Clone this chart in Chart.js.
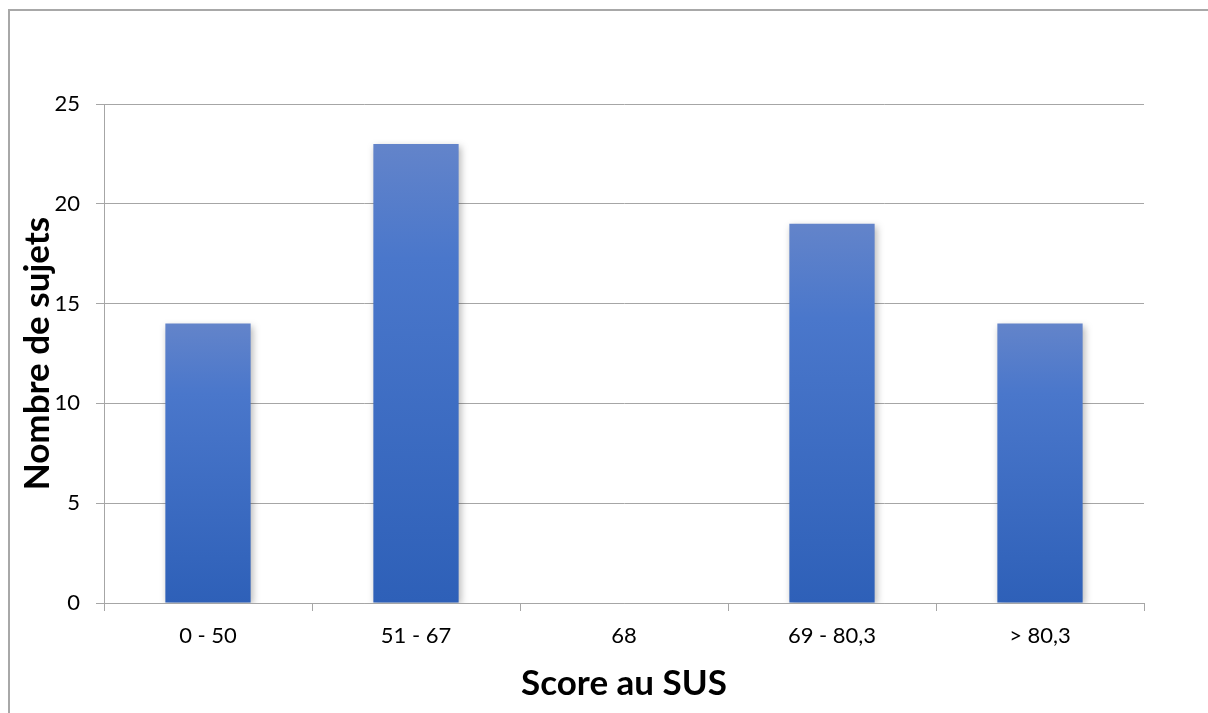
<!DOCTYPE html>
<html>
<head>
<meta charset="utf-8">
<script src="https://cdn.jsdelivr.net/npm/chart.js@4/dist/chart.umd.min.js"></script>
<style>
  html, body { margin: 0; padding: 0; background: #ffffff; }
  #wrap { width: 1208px; height: 713px; position: relative; }
</style>
</head>
<body>
<div id="wrap"><canvas id="c" width="1208" height="713"></canvas></div>
<script>
// SUS score bands and number of subjects in each
const categories = ['0 - 50', '51 - 67', '68', '69 - 80,3', '> 80,3'];
const subjects = [14, 23, 0, 19, 14];
const yTicks = [0, 5, 10, 15, 20, 25];

const FONT = 'Lato, "Open Sans", "Liberation Sans", sans-serif';
const GRID = '#a6a6a6';

// outer frame around the chart
const framePlugin = {
  id: 'frame',
  beforeDraw(chart) {
    const ctx = chart.ctx;
    ctx.save();
    ctx.strokeStyle = '#a8a8a8';
    ctx.lineWidth = 2;
    ctx.strokeRect(9, 10, 1400, 900);
    ctx.restore();
  }
};

// soft drop shadow behind the bars
const shadowPlugin = {
  id: 'barShadow',
  beforeDatasetsDraw(chart) {
    const ctx = chart.ctx;
    ctx.save();
    ctx.shadowColor = 'rgba(0,0,0,0.28)';
    ctx.shadowBlur = 7;
    ctx.shadowOffsetX = 2;
    ctx.shadowOffsetY = 2;
  },
  afterDatasetsDraw(chart) {
    chart.ctx.restore();
  }
};

// vertical gradient per bar, lighter at the top
function barFill(context) {
  const chart = context.chart;
  const y = chart.scales.y;
  if (!y || context.parsed === undefined) return '#3f6fc4';
  const top = y.getPixelForValue(context.parsed.y);
  const bottom = y.getPixelForValue(0);
  if (!isFinite(top) || !isFinite(bottom) || top === bottom) return '#3f6fc4';
  const g = chart.ctx.createLinearGradient(0, top, 0, bottom);
  g.addColorStop(0, '#6384ca');
  g.addColorStop(0.25, '#4a77cb');
  g.addColorStop(1, '#2e60b8');
  return g;
}

new Chart(document.getElementById('c'), {
  type: 'bar',
  data: {
    labels: categories,
    datasets: [{
      label: 'Nombre de sujets',
      data: subjects,
      backgroundColor: barFill,
      borderWidth: 0,
      barPercentage: 0.41,
      categoryPercentage: 1
    }]
  },
  options: {
    responsive: false,
    animation: false,
    devicePixelRatio: 1,
    layout: { padding: { left: 10, top: 104, right: 64, bottom: 0 } },
    plugins: {
      legend: { display: false },
      tooltip: { enabled: false }
    },
    scales: {
      x: {
        offset: true,
        grid: {
          display: true,
          offset: true,
          drawOnChartArea: false,
          drawTicks: true,
          tickLength: 8,
          color: GRID,
          lineWidth: 1
        },
        border: { display: true, color: GRID, width: 1 },
        ticks: {
          color: '#000000',
          font: { family: FONT, size: 22 },
          padding: 12,
          maxRotation: 0
        },
        title: {
          display: true,
          text: 'Score au SUS',
          color: '#000000',
          font: { family: FONT, size: 35, weight: 'bold' },
          padding: { top: 0, bottom: 8 }
        },
        afterFit(scale) { scale.height = 110; }
      },
      y: {
        min: 0,
        max: 25,
        afterBuildTicks(scale) { scale.ticks = yTicks.map(v => ({ value: v })); },
        grid: {
          color: GRID,
          lineWidth: 1,
          tickLength: 8,
          drawTicks: true
        },
        border: { display: true, color: GRID, width: 1 },
        ticks: {
          color: '#000000',
          font: { family: FONT, size: 22 },
          padding: 16
        },
        title: {
          display: true,
          text: 'Nombre de sujets',
          color: '#000000',
          font: { family: FONT, size: 35, weight: 'bold' },
          padding: { top: 7, bottom: 0 }
        },
        afterFit(scale) { scale.width = 94; }
      }
    }
  },
  plugins: [framePlugin, shadowPlugin]
});
</script>
</body>
</html>
